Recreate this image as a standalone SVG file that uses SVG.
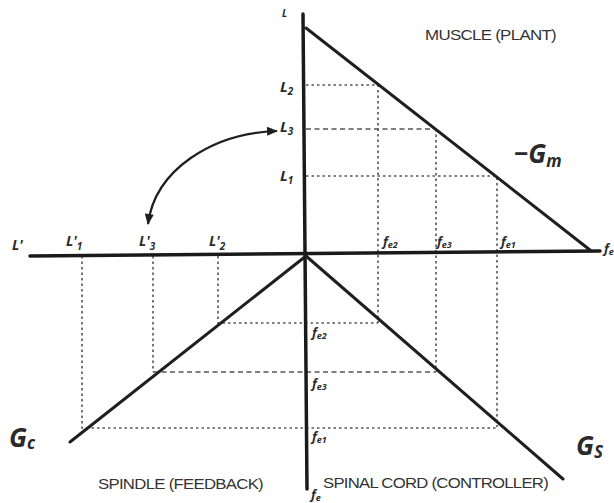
<svg xmlns="http://www.w3.org/2000/svg" width="614" height="503" viewBox="0 0 614 503">
<defs>
<style>
.ax{stroke:#1a1a1a;stroke-width:3.5;fill:none;stroke-linecap:round}
.cv{stroke:#1f1f1f;stroke-width:3;fill:none;stroke-linecap:round}
.dt{stroke:#555;stroke-width:1.6;fill:none;stroke-dasharray:2.5 3}
.ds{stroke:#555;stroke-width:1.6;fill:none;stroke-dasharray:5 3.5}
.m{font-family:"Open Sans","Liberation Sans",sans-serif;font-style:italic;font-weight:700;fill:#2a2a2a}
.s{font-size:15px}
.g{font-size:26px}
.cap{font-family:"Liberation Sans",Arial,sans-serif;font-size:14px;fill:#333;letter-spacing:-0.6px}
</style>
<marker id="ah2" viewBox="0 0 12 10" refX="11" refY="5" markerWidth="13" markerHeight="9" orient="auto-start-reverse" markerUnits="userSpaceOnUse">
<path d="M0,0 L12,5 L0,10 Z" fill="#1f1f1f"/>
</marker>
</defs>
<rect width="614" height="503" fill="#ffffff"/>

<g id="guides">
<path class="dt" d="M306,85 H378 V323"/>
<path class="ds" d="M306,129 H436"/>
<path class="dt" d="M436,129 V372"/>
<path class="dt" d="M306,176 H497 V427"/>
<path class="dt" d="M218,256 V323 H378"/>
<path class="dt" d="M153,256 V372"/>
<path class="ds" d="M153,372 H436"/>
<path class="dt" d="M82,256 V428 H497"/>
</g>

<g id="axes">
<line class="ax" x1="303" y1="14" x2="307" y2="489"/>
<line class="ax" x1="30" y1="256" x2="600" y2="251"/>
</g>

<g id="curves">
<line id="muscle-line" class="cv" x1="306" y1="28" x2="590" y2="250"/>
<line id="spinal-line" class="cv" x1="306" y1="256" x2="563" y2="479"/>
<line id="spindle-line" class="cv" x1="306" y1="256" x2="70" y2="442"/>
</g>

<g id="connectors">
<path d="M148,224 C155,170 212,133 277,131" fill="none" stroke="#1f1f1f" stroke-width="2.2" marker-start="url(#ah2)" marker-end="url(#ah2)"/>
</g>

<g id="labels">
<text class="m" x="282" y="17" font-size="10">L</text>
<text class="m s" x="280" y="92">L<tspan font-size="10" dy="3">2</tspan></text>
<text class="m s" x="280" y="132">L<tspan font-size="10" dy="3">3</tspan></text>
<text class="m s" x="280" y="181">L<tspan font-size="10" dy="3">1</tspan></text>

<text class="m" x="12" y="250" font-size="14">L'</text>
<text class="m" x="66" y="246" font-size="14">L'<tspan font-size="10" dy="4">1</tspan></text>
<text class="m" x="139" y="246" font-size="14">L'<tspan font-size="10" dy="4">3</tspan></text>
<text class="m" x="209" y="246" font-size="14">L'<tspan font-size="10" dy="4">2</tspan></text>

<text class="m" x="383" y="246" font-size="13">f<tspan font-size="9" dy="2">e2</tspan></text>
<text class="m" x="437" y="246" font-size="13">f<tspan font-size="9" dy="2">e3</tspan></text>
<text class="m" x="501" y="246" font-size="13">f<tspan font-size="9" dy="2">e1</tspan></text>
<text class="m" x="604" y="253" font-size="13">f<tspan font-size="9" dy="2">e</tspan></text>

<text class="m" x="312" y="337" font-size="13">f<tspan font-size="9" dy="2">e2</tspan></text>
<text class="m" x="312" y="388" font-size="13">f<tspan font-size="9" dy="2">e3</tspan></text>
<text class="m" x="312" y="441" font-size="13">f<tspan font-size="9" dy="2">e1</tspan></text>
<text class="m" x="311" y="499" font-size="13">f<tspan font-size="9" dy="2">e</tspan></text>

<text class="m g" x="514" y="163">−G<tspan font-size="17" dy="4">m</tspan></text>
<text class="m g" x="9" y="447">G<tspan font-size="17" dy="2">c</tspan></text>
<text class="m g" x="576" y="455">G<tspan font-size="17" dy="3">S</tspan></text>

<text class="cap" x="425" y="40" textLength="131" lengthAdjust="spacingAndGlyphs">MUSCLE (PLANT)</text>
<text class="cap" x="98" y="489" textLength="165" lengthAdjust="spacingAndGlyphs">SPINDLE (FEEDBACK)</text>
<text class="cap" x="323" y="488" textLength="225" lengthAdjust="spacingAndGlyphs">SPINAL CORD (CONTROLLER)</text>
</g>
</svg>
